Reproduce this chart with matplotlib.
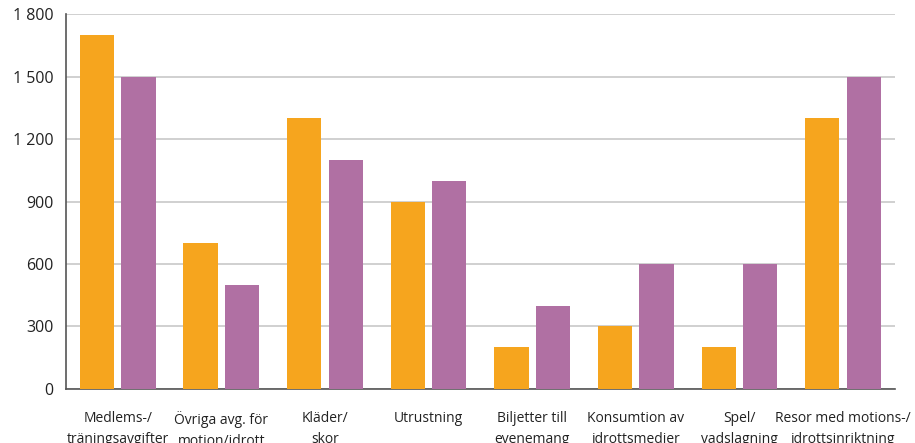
import numpy as np
import matplotlib.pyplot as plt
from matplotlib.ticker import FuncFormatter

categories = ['Medlems-/\nträningsavgifter', 'Övriga avg. för\nmotion/idrott', 'Kläder/\nskor',
              'Utrustning', 'Biljetter till\nevenemang', 'Konsumtion av\nidrottsmedier',
              'Spel/\nvadslagning', 'Resor med motions-/\nidrottsinriktning']
orange_vals = [1700, 700, 1300, 900, 200, 300, 200, 1300]
purple_vals = [1500, 500, 1100, 1000, 400, 600, 600, 1500]
yticks = [0, 300, 600, 900, 1200, 1500, 1800]

plt.rcParams['font.family'] = ['Open Sans', 'DejaVu Sans']

fig = plt.figure(figsize=(9.15, 4.43), dpi=100)
ax = fig.add_axes([0.072, 0.122, 0.906, 0.846])

x = np.arange(len(categories))
w = 0.33
ax.bar(x - 0.2, orange_vals, w, color='#F6A51E', zorder=3)
ax.bar(x + 0.2, purple_vals, w, color='#B070A3', zorder=3)

ax.set_xlim(-0.5, len(categories) - 0.5)
ax.set_ylim(0, 1800)
ax.set_yticks(yticks)
ax.yaxis.set_major_formatter(FuncFormatter(lambda v, p: f'{int(v):,}'.replace(',', ' ')))
ax.set_xticks(x)
ax.set_xticklabels(categories, fontsize=10, linespacing=1.5)
ax.tick_params(axis='x', length=0, pad=16, colors='#222222')
ax.tick_params(axis='y', length=0, pad=9, labelsize=11.5, colors='#222222')
ax.grid(axis='y', color='#C8C8C8', linewidth=1.2, zorder=0)

for s in ['top', 'right']:
    ax.spines[s].set_visible(False)
ax.spines['left'].set_color('#555555')
ax.spines['bottom'].set_color('#555555')
ax.spines['left'].set_linewidth(1.2)
ax.spines['bottom'].set_linewidth(1.2)

fig.savefig('out.png', dpi=100)
